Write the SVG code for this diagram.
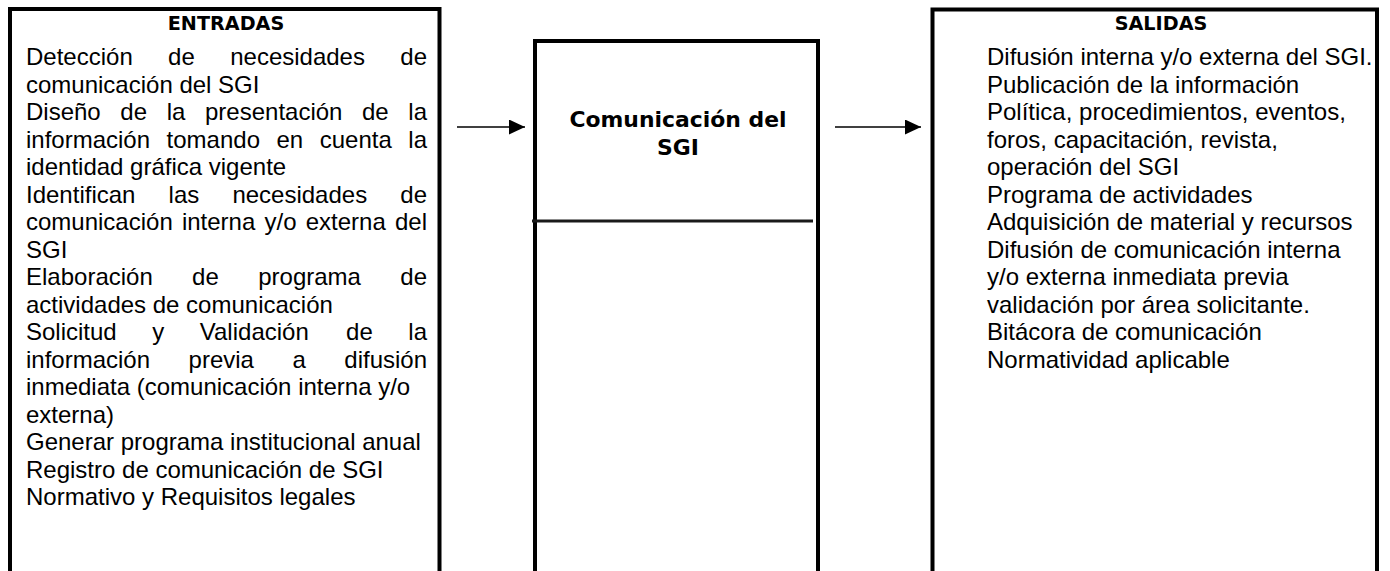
<svg xmlns="http://www.w3.org/2000/svg" width="1390" height="571" viewBox="0 0 1390 571">
<style>
.box{fill:#fff;stroke:#000;stroke-width:4}
.t{font-family:"Liberation Sans",Arial,sans-serif;font-size:24px;fill:#000}
.h{font-family:"DejaVu Sans",sans-serif;font-weight:bold;fill:#000;text-anchor:middle}
.conn{stroke:#000;stroke-width:1.5;fill:none}
</style>
<defs>
<marker id="arr" markerUnits="userSpaceOnUse" markerWidth="16" markerHeight="15" refX="16" refY="7.5" orient="auto">
<path d="M0,0 L16,7.5 L0,15 Z" fill="#000"/>
</marker>
</defs>
<rect width="1390" height="571" fill="#fff"/>
<g id="node-entradas">
<path class="box" d="M10,580 V9 H439.5 V580"/>
<text class="h" x="226" y="30" font-size="19.2">ENTRADAS</text>
<text class="t" y="65"><tspan x="26">Detección</tspan><tspan x="168.1">de</tspan><tspan x="230.2">necesidades</tspan><tspan x="400.3">de</tspan></text>
<text class="t" x="26" y="92.5">comunicación del SGI</text>
<text class="t" y="120"><tspan x="26">Diseño</tspan><tspan x="120.3">de</tspan><tspan x="166.7">la</tspan><tspan x="205">presentación</tspan><tspan x="362">de</tspan><tspan x="408.3">la</tspan></text>
<text class="t" y="147.5"><tspan x="26">información</tspan><tspan x="166.6">tomando</tspan><tspan x="276.5">en</tspan><tspan x="319.7">cuenta</tspan><tspan x="408.3">la</tspan></text>
<text class="t" x="26" y="175">identidad gráfica vigente</text>
<text class="t" y="202.5"><tspan x="26">Identifican</tspan><tspan x="168.6">las</tspan><tspan x="232.4">necesidades</tspan><tspan x="400.3">de</tspan></text>
<text class="t" y="230"><tspan x="26">comunicación</tspan><tspan x="181.9">interna</tspan><tspan x="264.5">y/o</tspan><tspan x="305.7">externa</tspan><tspan x="395">del</tspan></text>
<text class="t" x="26" y="257.5">SGI</text>
<text class="t" y="285"><tspan x="26">Elaboración</tspan><tspan x="192.1">de</tspan><tspan x="258.2">programa</tspan><tspan x="400.3">de</tspan></text>
<text class="t" x="26" y="312.5">actividades de comunicación</text>
<text class="t" y="340"><tspan x="26">Solicitud</tspan><tspan x="152.3">y</tspan><tspan x="199.8">Validación</tspan><tspan x="346.1">de</tspan><tspan x="408.3">la</tspan></text>
<text class="t" y="367.5"><tspan x="26">información</tspan><tspan x="188.6">previa</tspan><tspan x="292.4">a</tspan><tspan x="344.3">difusión</tspan></text>
<text class="t" x="26" y="395">inmediata (comunicación interna y/o</text>
<text class="t" x="26" y="422.5">externa)</text>
<text class="t" x="26" y="450">Generar programa institucional anual</text>
<text class="t" x="26" y="477.5">Registro de comunicación de SGI</text>
<text class="t" x="26" y="505">Normativo y Requisitos legales</text>
</g>
<g id="node-proceso">
<path class="box" d="M535,580 V41 H818 V580"/>
<line x1="532" y1="221" x2="813" y2="221" stroke="#1a1a1a" stroke-width="3"/>
<text class="h" x="678" y="127" font-size="21.9">Comunicación del</text>
<text class="h" x="678" y="155" font-size="21.9">SGI</text>
</g>
<g id="node-salidas">
<path class="box" d="M932.5,580 V9.5 H1377 V580"/>
<text class="h" x="1161" y="30" font-size="19.2">SALIDAS</text>
<text class="t" x="987" y="65">Difusión interna y/o externa del SGI.</text>
<text class="t" x="987" y="92.5">Publicación de la información</text>
<text class="t" x="987" y="120">Política, procedimientos, eventos,</text>
<text class="t" x="987" y="147.5">foros, capacitación, revista,</text>
<text class="t" x="987" y="175">operación del SGI</text>
<text class="t" x="987" y="202.5">Programa de actividades</text>
<text class="t" x="987" y="230">Adquisición de material y recursos</text>
<text class="t" x="987" y="257.5">Difusión de comunicación interna</text>
<text class="t" x="987" y="285">y/o externa inmediata previa</text>
<text class="t" x="987" y="312.5">validación por área solicitante.</text>
<text class="t" x="987" y="340">Bitácora de comunicación</text>
<text class="t" x="987" y="367.5">Normatividad aplicable</text>
</g>
<g id="connectors">
<line class="conn" x1="457" y1="127" x2="525" y2="127" marker-end="url(#arr)"/>
<line class="conn" x1="835" y1="127" x2="921" y2="127" marker-end="url(#arr)"/>
</g>
</svg>
